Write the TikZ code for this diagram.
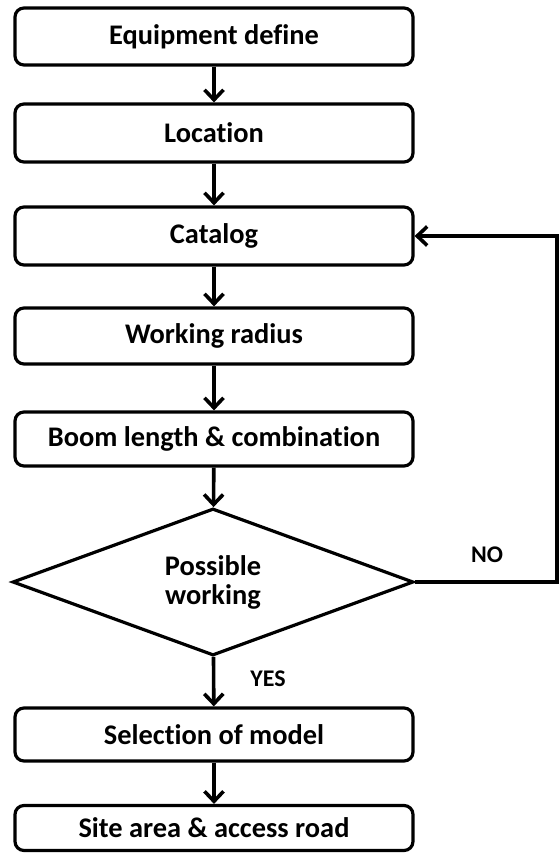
\documentclass[tikz,border=0pt]{standalone}
\usepackage{fontspec}
\setmainfont{Carlito}[Ligatures=NoCommon]
\usetikzlibrary{shapes.geometric,arrows.meta}

\begin{document}
\begin{tikzpicture}[x=1bp,y=-1bp,
  block/.style={draw,line width=3.2bp,rounded corners=9bp,minimum width=398bp,inner sep=0pt,font=\fontsize{28.5}{30}\selectfont\bfseries},
  decide/.style={draw,line width=3.2bp,diamond,aspect=2.73,minimum width=401bp,minimum height=147bp,inner sep=0pt,align=center,font=\fontsize{28.5}{29}\selectfont\bfseries},
  answer/.style={draw=none,font=\fontsize{24}{28}\selectfont\bfseries},
  flow/.style={line width=3.6bp,-{Straight Barb[length=10bp,width=19bp]}}]
  \useasboundingbox (0,0) rectangle (560,853);

  %process boxes
  \node[block,minimum height=57bp] (equip) at (214,36.5) {Equipment define};
  \node[block,minimum height=58bp] (loc) at (214,133) {Location};
  \node[block,minimum height=58bp] (cat) at (214,236) {Catalog};
  \node[block,minimum height=56bp] (radius) at (214,336) {Working radius};
  \node[block,minimum height=54bp] (boom) at (214,439) {Boom length \& combination};

  %decision
  \node[decide] (poss) at (213,582) {Possible\\working};

  %result boxes
  \node[block,minimum height=53bp] (sel) at (214,734.5) {Selection of model};
  \node[block,minimum height=45bp] (site) at (214,828) {Site area \& access road};

  %labels
  \node[answer] (yes) at (268,679) {YES};
  \node[answer] (no) at (487,555) {NO};

  %arrows
  \draw[flow] (equip) -- (loc);
  \draw[flow] (loc) -- (cat);
  \draw[flow] (cat) -- (radius);
  \draw[flow] (radius) -- (boom);
  \draw[flow] (boom) -- (poss);
  \draw[flow] (poss) -- (sel);
  \draw[flow] (sel) -- (site);

  %loop back
  \coordinate (back) at (557,582);
  \draw[flow,line join=miter] (poss.east) -- (back) |- (cat.east);

\end{tikzpicture}
\end{document}
